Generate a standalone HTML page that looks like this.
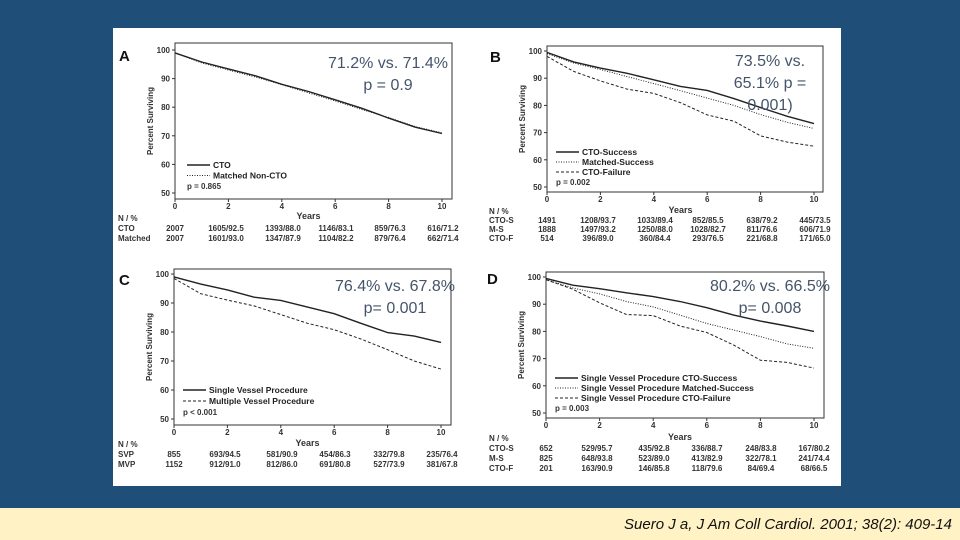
<!DOCTYPE html>
<html><head><meta charset="utf-8">
<style>
html,body{margin:0;padding:0;background:#1f4e79;}
svg{display:block;font-family:"Liberation Sans",Arial,sans-serif;}
</style></head>
<body>
<svg id="chart" width="960" height="540" viewBox="0 0 960 540">
  <rect x="0" y="0" width="960" height="540" fill="#1f4e79"/>
  <rect x="113" y="28" width="728" height="458" fill="#ffffff"/>
  <rect x="0" y="508" width="960" height="32" fill="#fff2c4"/>
  <text x="952" y="529" text-anchor="end" font-size="15" font-style="italic" fill="#111">Suero J a, J Am Coll Cardiol. 2001; 38(2): 409-14</text>
  <g id="panels"></g>
</svg>
<script>
// ---- data (yearly survival %, years 0..10) ----
const years = [0,1,2,3,4,5,6,7,8,9,10];
const yTicks = [50,60,70,80,90,100];
const xTicks = [0,2,4,6,8,10];

const aCTO = [99,95.8,93.4,91,88,85.5,82.6,79.6,76.2,73,70.8];
const aMatched = [99,95.5,93,90.6,87.9,85,82.2,79.2,76.4,73.2,71];

const bCTOS = [99.5,96,93.7,91.8,89.4,87,85.5,82.5,79.2,76,73.3];
const bMS = [99,95.6,93.2,90.6,88,85.4,82.7,80,76.6,73.8,71.5];
const bCTOF = [98,92.5,89,86,84.4,81,76.5,74.2,68.8,66.5,65];

const cSVP = [99,96.5,94.5,92,90.9,88.6,86.3,83,79.8,78.6,76.4];
const cMVP = [98.5,93.2,91,89,86,83,80.8,77.6,73.9,70,67.2];

const dCTOS = [99.5,97,95.7,94.2,92.8,91,88.7,86,83.8,82,80];
const dMS = [99,96,93.8,91,89,86,82.9,80.5,78.1,75.4,73.8];
const dCTOF = [99,95.5,90.5,86.2,85.8,82,79.6,75,69.4,68.6,66.5];

const annA = ["71.2% vs. 71.4%","p = 0.9"];
const annB = ["73.5% vs.","65.1% p =","0.001)"];
const annC = ["76.4% vs. 67.8%","p= 0.001"];
const annD = ["80.2% vs. 66.5%","p= 0.008"];

const tableA = [["CTO","2007","1605/92.5","1393/88.0","1146/83.1","859/76.3","616/71.2"],["Matched","2007","1601/93.0","1347/87.9","1104/82.2","879/76.4","662/71.4"]];
const tableB = [["CTO-S","1491","1208/93.7","1033/89.4","852/85.5","638/79.2","445/73.5"],["M-S","1888","1497/93.2","1250/88.0","1028/82.7","811/76.6","606/71.9"],["CTO-F","514","396/89.0","360/84.4","293/76.5","221/68.8","171/65.0"]];
const tableC = [["SVP","855","693/94.5","581/90.9","454/86.3","332/79.8","235/76.4"],["MVP","1152","912/91.0","812/86.0","691/80.8","527/73.9","381/67.8"]];
const tableD = [["CTO-S","652","529/95.7","435/92.8","336/88.7","248/83.8","167/80.2"],["M-S","825","648/93.8","523/89.0","413/82.9","322/78.1","241/74.4"],["CTO-F","201","163/90.9","146/85.8","118/79.6","84/69.4","68/66.5"]];

const NS = "http://www.w3.org/2000/svg";
const root = document.getElementById('panels');
function mk(tag, attrs, parent, txt){
  const e = document.createElementNS(NS, tag);
  for (const k in attrs) e.setAttribute(k, attrs[k]);
  if (txt !== undefined) e.textContent = txt;
  parent.appendChild(e);
  return e;
}
const styles = {solid:"", dot:"1,1.5", dash:"3,2"};

function panel(cfg){
  const g = mk('g', {}, root);
  
  
  const xs = v => cfg.x0 + (cfg.x10 - cfg.x0) * v / 10;
  const ys = v => cfg.y100 + (cfg.y50 - cfg.y100) * (100 - v) / 50;
  // frame
  const fr = mk('rect', {x:cfg.x0, y:cfg.top, width:cfg.right-cfg.x0, height:cfg.bottom-cfg.top, fill:'none', stroke:'#333', 'stroke-width':1}, g);
  
  
  const letter = mk('text', {x:cfg.lx, y:cfg.ly, 'font-size':15, 'font-weight':'bold', fill:'#111'}, g, cfg.id.toUpperCase());
  
  
  // y ticks
  yTicks.forEach(t => {
    mk('line', {x1:cfg.x0-3, x2:cfg.x0, y1:ys(t), y2:ys(t), stroke:'#333'}, g);
    const tl = mk('text', {x:cfg.x0-5, y:ys(t)+3, 'font-size':8, 'font-weight':'bold', 'text-anchor':'end', fill:'#333'}, g, t);
    
    
  });
  xTicks.forEach(t => {
    mk('line', {x1:xs(t), x2:xs(t), y1:cfg.bottom, y2:cfg.bottom+3, stroke:'#333'}, g);
    const tl = mk('text', {x:xs(t), y:cfg.bottom+10, 'font-size':8, 'font-weight':'bold', 'text-anchor':'middle', fill:'#333'}, g, t);
    
    
  });
  const yt = mk('text', {x:0, y:0, 'font-size':8, 'font-weight':'bold', 'text-anchor':'middle', fill:'#333', transform:`translate(${cfg.x0-22},${(cfg.top+cfg.bottom)/2}) rotate(-90)`}, g, 'Percent Surviving');
  
  
  const xt = mk('text', {x:(cfg.x0+cfg.x10)/2, y:cfg.yearsY, 'font-size':9, 'font-weight':'bold', 'text-anchor':'middle', fill:'#333'}, g, 'Years');
  
  
  // series
  cfg.series.forEach((s, i) => {
    const d = years.map((yr, j) => (j ? 'L' : 'M') + xs(yr).toFixed(1) + ',' + ys(s.values[j]).toFixed(1)).join(' ');
    const p = mk('path', {d:d, fill:'none', stroke:'#222', 'stroke-width': s.style==='solid'?1.4:1, 'stroke-dasharray':styles[s.style]}, g);
    
    
    const ly = cfg.legY + i * cfg.legStep;
    const ll = mk('line', {x1:cfg.legX, x2:cfg.legX+23, y1:ly-3, y2:ly-3, stroke:'#222', 'stroke-width':s.style==='solid'?1.4:1, 'stroke-dasharray':styles[s.style]}, g);
    
    
    const lt = mk('text', {x:cfg.legX+26, y:ly, 'font-size':8.5, 'font-weight':'bold', fill:'#222'}, g, s.label);
    
    
  });
  const pv = mk('text', {x:cfg.legX, y:cfg.legY + cfg.series.length*cfg.legStep, 'font-size':8, 'font-weight':'bold', fill:'#333'}, g, cfg.p);
  
  
  // table
  const colOff = [0,51,108,161,215,268];
  const nh = mk('text', {x:cfg.tx, y:cfg.tableY, 'font-size':8, 'font-weight':'bold', fill:'#333'}, g, 'N / %');
  
  
  cfg.table.forEach((row, r) => {
    const y = cfg.tableY + (r+1) * cfg.rowStep;
    const rl = mk('text', {x:cfg.tx, y:y, 'font-size':8, 'font-weight':'bold', fill:'#333'}, g, row[0]);
    
    
    for (let c = 1; c < row.length; c++) {
      const tc = mk('text', {x:cfg.x0 + colOff[c-1], y:y, 'font-size':8, 'font-weight':'bold', 'text-anchor':'middle', fill:'#333'}, g, row[c]);
      
      
    }
  });
  // annotation
  cfg.ann.forEach((line, i) => {
    const at = mk('text', {x:cfg.ax, y:cfg.ay + i*22, 'font-size':16, 'text-anchor':'middle', fill:'#44546a'}, g, line);
    
    
  });
}

panel({id:'a', x0:175, x10:442, right:452, top:43, bottom:199, y100:50, y50:193, lx:119, ly:61, yearsY:219,
  series:[{key:'cto', label:'CTO', values:aCTO, style:'solid'},{key:'matched', label:'Matched Non-CTO', values:aMatched, style:'dot'}],
  legX:187, legY:168, legStep:10.5, p:'p = 0.865', tx:118, tableY:221, rowStep:10, table:tableA, ann:annA, ax:388, ay:68});
panel({id:'b', x0:547, x10:814, right:823, top:46, bottom:192, y100:51, y50:187, lx:490, ly:62, yearsY:213,
  series:[{key:'cto-s', label:'CTO-Success', values:bCTOS, style:'solid'},{key:'m-s', label:'Matched-Success', values:bMS, style:'dot'},{key:'cto-f', label:'CTO-Failure', values:bCTOF, style:'dash'}],
  legX:556, legY:155, legStep:10, p:'p = 0.002', tx:489, tableY:214, rowStep:9, table:tableB, ann:annB, ax:770, ay:66});
panel({id:'c', x0:174, x10:441, right:451, top:269, bottom:425, y100:274, y50:419, lx:119, ly:285, yearsY:446,
  series:[{key:'svp', label:'Single Vessel Procedure', values:cSVP, style:'solid'},{key:'mvp', label:'Multiple Vessel Procedure', values:cMVP, style:'dash'}],
  legX:183, legY:393, legStep:11, p:'p < 0.001', tx:118, tableY:447, rowStep:10, table:tableC, ann:annC, ax:395, ay:291});
panel({id:'d', x0:546, x10:814, right:824, top:272, bottom:418, y100:277, y50:413, lx:487, ly:284, yearsY:440,
  series:[{key:'cto-s', label:'Single Vessel Procedure CTO-Success', values:dCTOS, style:'solid'},{key:'m-s', label:'Single Vessel Procedure Matched-Success', values:dMS, style:'dot'},{key:'cto-f', label:'Single Vessel Procedure CTO-Failure', values:dCTOF, style:'dash'}],
  legX:555, legY:381, legStep:10, p:'p = 0.003', tx:489, tableY:441, rowStep:10, table:tableD, ann:annD, ax:770, ay:291});
</script>
</body></html>
